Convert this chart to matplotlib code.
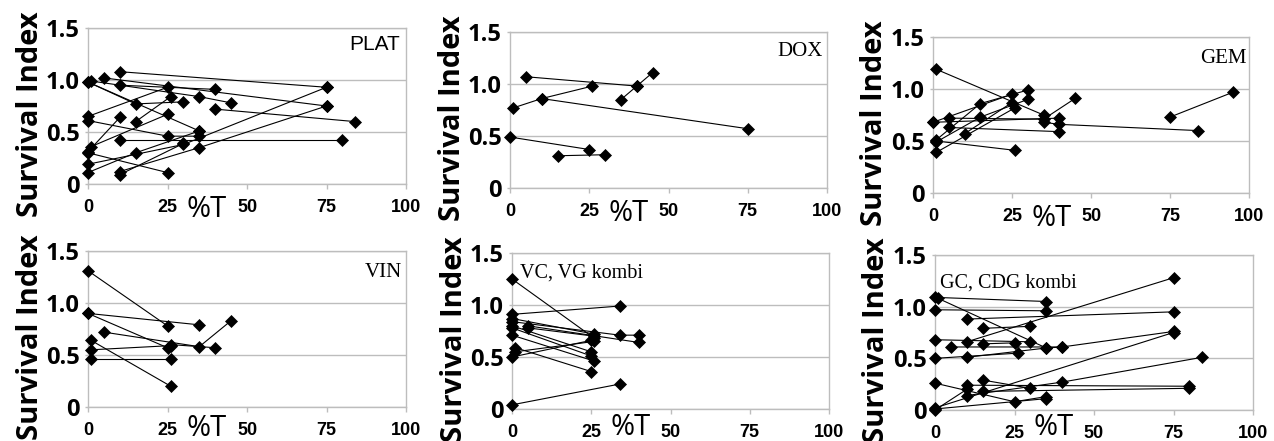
import matplotlib
matplotlib.use("Agg")
import matplotlib.pyplot as plt

# ---------------- data (x = %T, y = Survival Index), one list per connected sample ----------
plat_x = [[10, 75], [5, 75], [10, 40], [0, 35], [1, 35, 45], [40, 84], [0, 25], [0, 25, 35],
          [0, 10], [10, 80], [0, 15, 30], [15, 26], [1, 25], [0, 30, 75], [10, 35, 75],
          [0, 15, 35], [0, 25], [10, 30]]
plat_y = [[1.08, 0.93], [1.02, 0.75], [0.95, 0.91], [0.98, 0.51], [0.99, 0.84, 0.78], [0.72, 0.60],
          [0.65, 0.93], [0.61, 0.46, 0.46], [0.31, 0.64], [0.42, 0.42], [0.98, 0.77, 0.79],
          [0.60, 0.84], [0.36, 0.67], [0.19, 0.38, 0.93], [0.12, 0.35, 0.75], [0.11, 0.30, 0.51],
          [0.30, 0.11], [0.09, 0.39]]

dox_x = [[5, 40], [35, 40, 45], [1, 10, 26], [10, 75], [0, 25], [15, 30]]
dox_y = [[1.07, 0.98], [0.85, 0.98, 1.11], [0.77, 0.86, 0.98], [0.86, 0.57], [0.49, 0.37], [0.31, 0.32]]

gem_x = [[1, 35], [0, 25], [5, 35, 45], [5, 40], [1, 15, 30], [1, 15, 30], [1, 26], [10, 25],
         [1, 26], [35, 40, 84], [0, 40], [75, 95]]
gem_y = [[1.19, 0.75], [0.68, 0.95], [0.72, 0.71, 0.91], [0.63, 0.59], [0.51, 0.86, 0.99],
         [0.49, 0.73, 0.90], [0.39, 0.82], [0.57, 0.87], [0.50, 0.41], [0.68, 0.66, 0.60],
         [0.68, 0.72], [0.73, 0.97]]

vin_x = [[0, 25], [0, 35], [0, 25], [5, 35, 45], [26, 40], [1, 26], [1, 26], [1, 26]]
vin_y = [[1.31, 0.78], [0.90, 0.79], [0.90, 0.57], [0.72, 0.58, 0.83], [0.60, 0.57],
         [0.64, 0.20], [0.55, 0.59], [0.46, 0.46]]

vc_x = [[0, 26], [0, 34], [0, 26], [0, 34, 40], [0, 25], [5, 40], [0, 25], [0, 26], [0, 25],
        [1, 25], [1, 26], [0, 34], [5, 26]]
vc_y = [[1.25, 0.68], [0.91, 0.99], [0.87, 0.72], [0.84, 0.71, 0.71], [0.80, 0.55], [0.80, 0.64],
        [0.78, 0.51], [0.71, 0.46], [0.50, 0.66], [0.59, 0.36], [0.55, 0.65], [0.04, 0.24],
        [0.78, 0.70]]

gc_x = [[0, 35], [1, 35, 40], [0, 35], [10, 75], [15, 30], [0, 30], [10, 75], [5, 40, 75],
        [0, 75], [15, 25], [0, 26], [10, 35], [0, 25, 35], [10, 80], [15, 30], [10, 40, 84],
        [15, 80], [0, 35], [0, 10]]
gc_y = [[1.09, 1.05], [1.08, 0.60, 0.61], [0.97, 0.96], [0.88, 0.95], [0.79, 0.81], [0.68, 0.66],
        [0.66, 1.28], [0.61, 0.61, 0.76], [0.02, 0.75], [0.64, 0.65], [0.50, 0.55], [0.51, 0.60],
        [0.26, 0.08, 0.13], [0.24, 0.23], [0.29, 0.21], [0.14, 0.27, 0.51], [0.18, 0.21],
        [0.01, 0.11], [0.00, 0.20]]

panel_names = ["PLAT", "DOX", "GEM", "VIN", "VC, VG kombi", "GC, CDG kombi"]
panel_xs = [plat_x, dox_x, gem_x, vin_x, vc_x, gc_x]
panel_ys = [plat_y, dox_y, gem_y, vin_y, vc_y, gc_y]

x_ticks = [0, 25, 50, 75, 100]
x_ticklabels = ["0", "25", "50", "75", "100"]
y_ticks = [0, 0.5, 1.0, 1.5]
y_ticklabels = ["0", "0.5", "1.0", "1.5"]
y_title = "Survival Index"
x_title = "%T"

# ---------------- layout ----------------
W, H = 1274, 441
fig = plt.figure(figsize=(W / 100, H / 100), dpi=100)

# (left px, top px, width px, height px)
boxes = [(88, 28, 318, 156), (510, 32, 317, 156), (933, 37, 316, 156),
         (88, 251, 318, 156), (512, 253, 317, 156), (935, 255, 318, 155)]

# label placement: (x axes-frac, y axes-frac, ha, family, size)
label_style = [
    (0.982, 0.895, "right", ["Liberation Sans"], 15),
    (0.987, 0.878, "right", ["Liberation Serif"], 15),
    (0.994, 0.865, "right", ["Liberation Serif"], 15),
    (0.988, 0.865, "right", ["Liberation Serif"], 15),
    (0.025, 0.870, "left", ["Liberation Serif"], 14.5),
    (0.016, 0.820, "left", ["Liberation Serif"], 14.5),
]
xlabel_y = [-0.165, -0.165, -0.165, -0.135, -0.12, -0.115]

grid_col = "#bdbdbd"

for i in range(6):
    l, t, w, h = boxes[i]
    ax = fig.add_axes([l / W, 1 - (t + h) / H, w / W, h / H])
    for xs, ys in zip(panel_xs[i], panel_ys[i]):
        ax.plot(xs, ys, color="black", lw=0.8, marker="D", ms=5.8,
                mfc="black", mec="black", mew=0.5, clip_on=False, zorder=3)
    ax.set_xlim(0, 100)
    ax.set_ylim(0, 1.5)
    ax.set_xticks(x_ticks)
    ax.set_xticklabels(x_ticklabels, fontfamily=["Liberation Sans", "DejaVu Sans"],
                       fontweight="bold", fontsize=13)
    ax.set_yticks(y_ticks)
    ax.set_yticklabels(y_ticklabels, fontfamily=["Open Sans", "DejaVu Sans"],
                       fontweight="bold", fontsize=17)
    ax.tick_params(axis="x", length=3.6, width=1, color=grid_col, direction="out", pad=7.5)
    ax.tick_params(axis="y", length=2.2, width=1, color=grid_col, direction="out", pad=4)
    ax.yaxis.grid(True, color=grid_col, lw=1)
    ax.set_axisbelow(True)
    for s in ax.spines.values():
        s.set_color(grid_col)
        s.set_linewidth(1)

    lx, ly, ha, fam, fs = label_style[i]
    ax.text(lx, ly, panel_names[i], transform=ax.transAxes, ha=ha, va="center",
            fontfamily=fam + ["DejaVu Sans"], fontsize=fs)

    ax.text(-58 / w, 0.45, y_title, transform=ax.transAxes, rotation=90,
            ha="center", va="center", fontfamily=["Open Sans", "DejaVu Sans"],
            fontweight="bold", fontsize=21)
    ax.text(0.374, xlabel_y[i], x_title, transform=ax.transAxes, ha="center", va="center",
            fontfamily=["Open Sans", "DejaVu Sans"], fontsize=21)

fig.savefig("out.png", dpi=100, facecolor="white")
